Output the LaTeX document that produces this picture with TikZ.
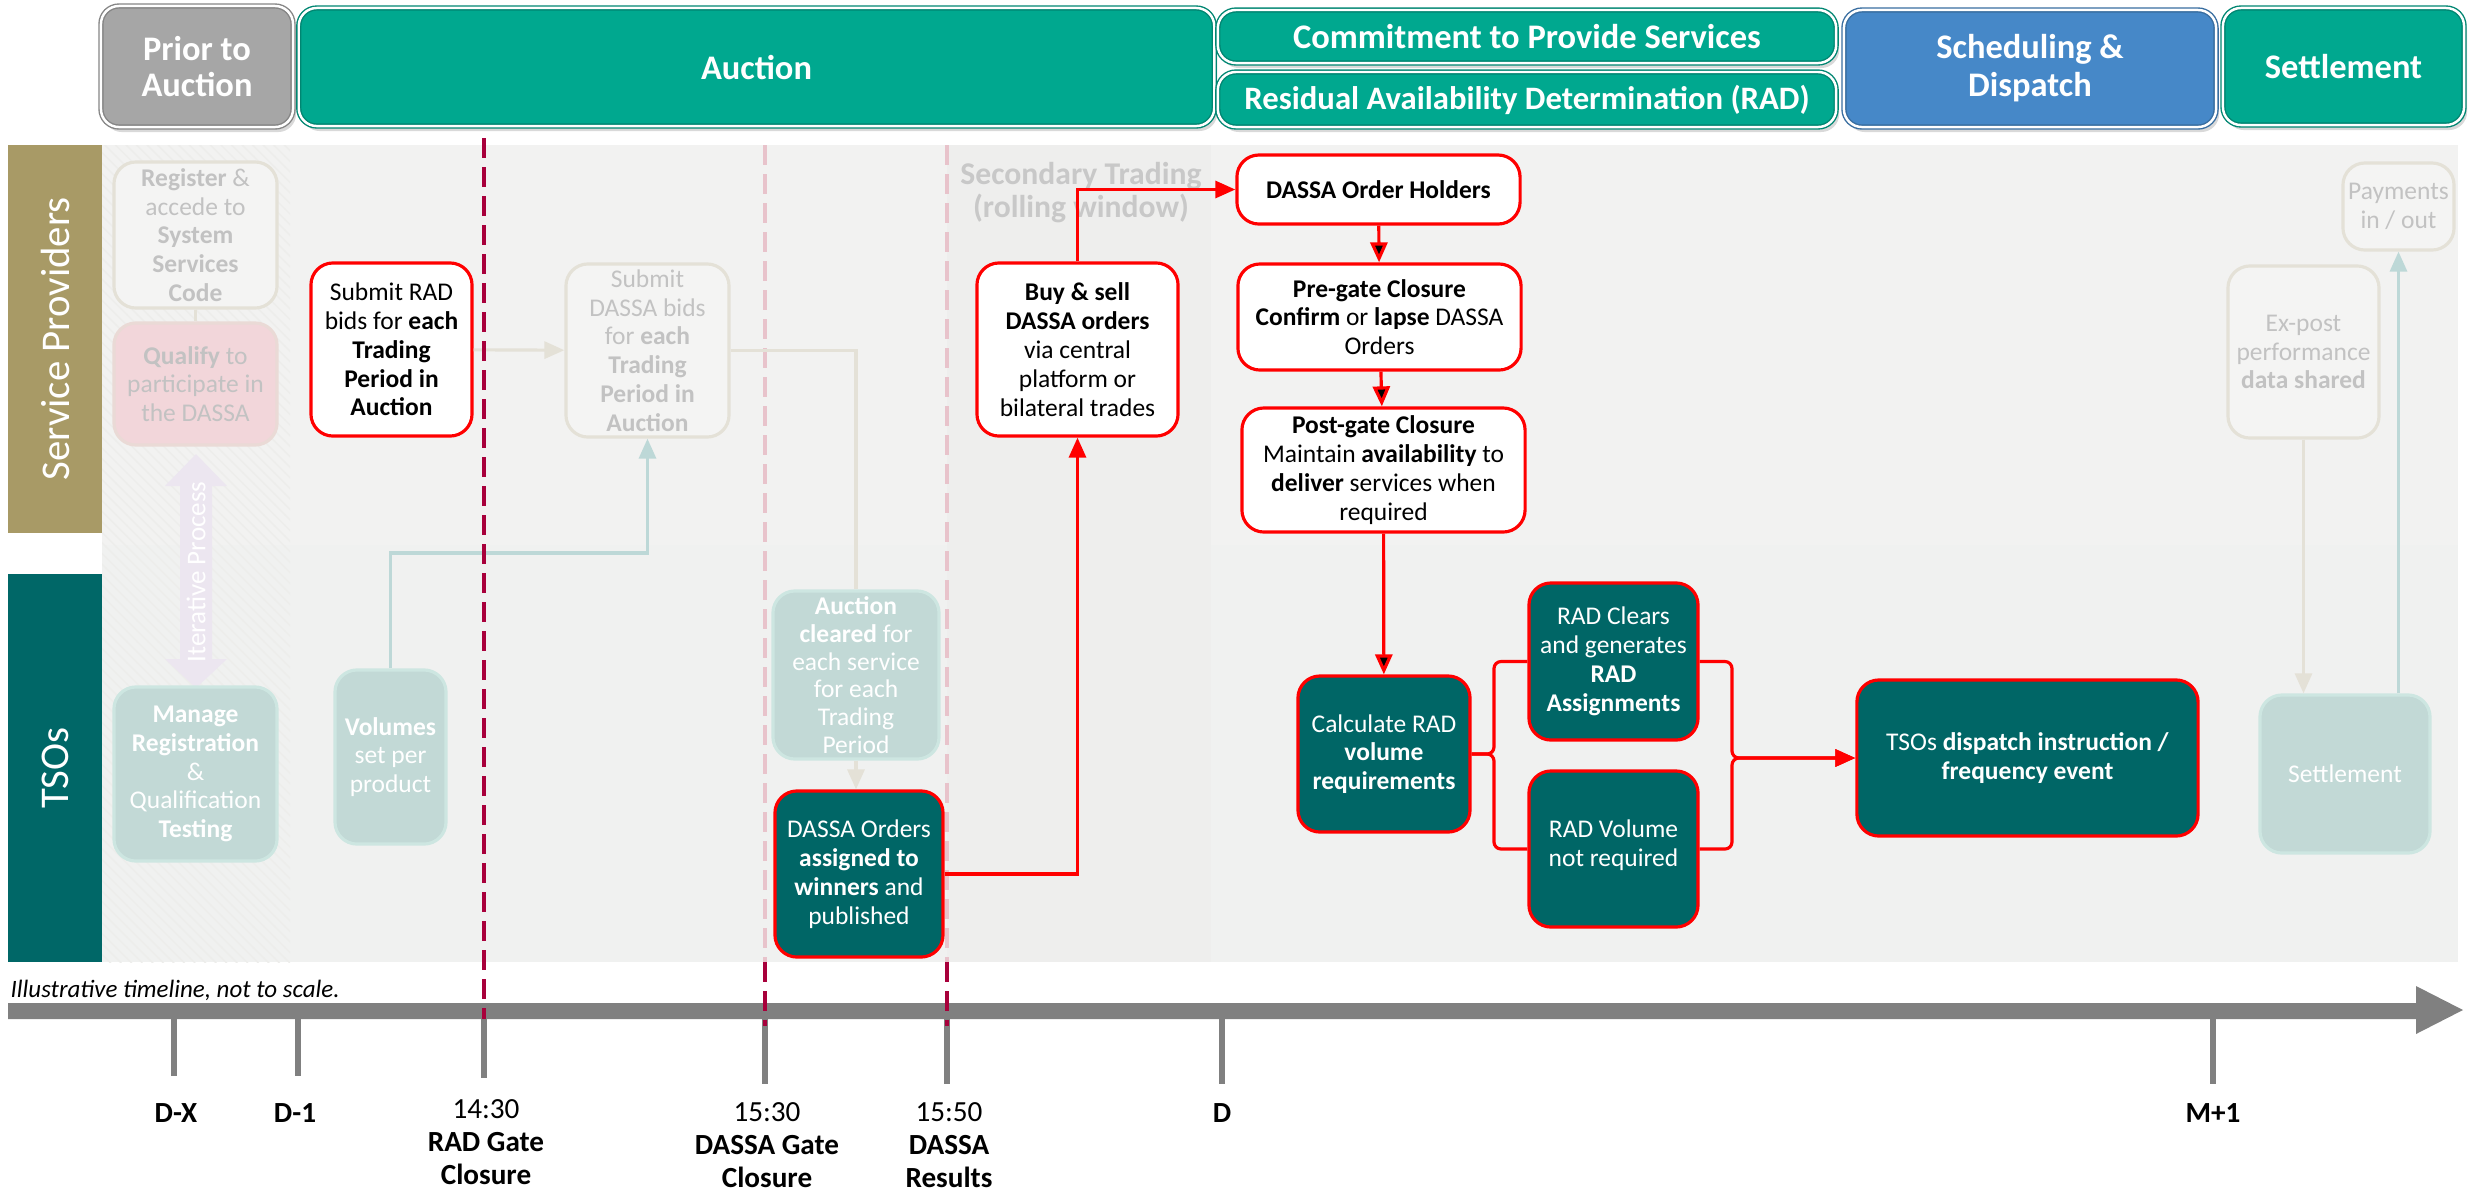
\documentclass[tikz,border=0pt]{standalone}
\usepackage{fontspec}
\setmainfont{Carlito}
\usetikzlibrary{positioning,arrows.meta,shadows,patterns}

\definecolor{hdrteal}{HTML}{00A88F}
\definecolor{hdrgray}{HTML}{A6A6A6}
\definecolor{hdrblue}{HTML}{4688C8}
\definecolor{spgold}{HTML}{A89A66}
\definecolor{tsoteal}{HTML}{006767}
\definecolor{darkteal}{HTML}{006666}
\definecolor{alertred}{HTML}{FF0000}
\definecolor{fadeline}{HTML}{E4E1D7}
\definecolor{fadefill}{HTML}{F4F4F3}
\definecolor{fadetext}{HTML}{C2C2C2}
\definecolor{fadetealfill}{HTML}{C2D9D6}
\definecolor{fadetealline}{HTML}{CDE6E1}
\definecolor{fadepink}{HTML}{F2D6DA}
\definecolor{fadepinkline}{HTML}{EADAD6}
\definecolor{fadecyan}{HTML}{BDD8D7}
\definecolor{gatered}{HTML}{A8003B}
\definecolor{gatepale}{HTML}{E8C3CB}
\definecolor{axisgray}{HTML}{808080}
\definecolor{lanebg}{HTML}{F2F2F1}
\definecolor{tsobg}{HTML}{F0F1F0}
\definecolor{tradebg}{HTML}{EEEEED}
\definecolor{hatchcol}{HTML}{EDEDEB}
\definecolor{tradetext}{HTML}{C8C8C8}
\definecolor{iterfill}{HTML}{ECE6F0}

\newcommand{\boxfont}{\fontsize{7.25}{8.2}\selectfont}
\newcommand{\headfont}{\fontsize{9.8}{10.4}\selectfont\bfseries}
\newcommand{\lanefont}{\fontsize{11.6}{13}\selectfont}
\newcommand{\timefont}{\fontsize{8.3}{9.4}\selectfont}
\newcommand{\tradefont}{\fontsize{9}{9.4}\selectfont\bfseries}
\newcommand{\iterfont}{\fontsize{7.7}{8}\selectfont}
\newcommand{\notefont}{\fontsize{7.1}{8}\selectfont\itshape}

\begin{document}
\begin{tikzpicture}[x=0.01cm,y=-0.01cm,>={Triangle[length=0.2cm,width=0.17cm]},
    basebox/.style={rounded corners=0.22cm,align=center,inner sep=0pt,font=\boxfont,line width=0.9pt},
    hotbox/.style={basebox,draw=alertred,fill=white},
    tealbox/.style={basebox,draw=alertred,fill=darkteal,text=white},
    fadebox/.style={basebox,draw=fadeline,fill=fadefill,text=fadetext},
    fadetealbox/.style={basebox,draw=fadetealline,fill=fadetealfill,text=white},
    headbox/.style={rounded corners=0.18cm,draw=#1!80!black,double=white,double distance=0.7pt,
      line width=0.4pt,fill=#1,text=white,font=\headfont,align=center,inner sep=0pt,
      drop shadow={opacity=0.3,shadow xshift=0.03cm,shadow yshift=-0.05cm}},
    laneband/.style={rotate=90,text=white,font=\lanefont,inner sep=0pt,minimum width=3.88cm,minimum height=0.94cm},
    redline/.style={draw=alertred,line width=0.9pt},
    fadeconn/.style={draw=fadeline,line width=0.9pt},
    cyanconn/.style={draw=fadecyan,line width=0.9pt},
    gateline/.style={draw=gatered,line width=1.3pt,dash pattern=on 0.2cm off 0.09cm},
    paleline/.style={draw=gatepale,line width=1pt,dash pattern=on 0.2cm off 0.09cm},
    axistick/.style={draw=axisgray,line width=1.7pt},
    timelbl/.style={font=\timefont,align=center,inner sep=0pt}]
  \useasboundingbox (0,0) rectangle (2471,1190);

  \fill[lanebg] (102,145) rectangle (2458,962);
  \fill[tsobg] (102,545) rectangle (2458,962);
  \fill[tradebg] (947,145) rectangle (1211,962);
  \fill[pattern=north west lines,pattern color=hatchcol] (102,145) rectangle (290,962);

  \node[headbox=hdrgray,minimum width=1.92cm,minimum height=1.21cm] (prior) at (197,66.5) {Prior to\\Auction};
  \node[headbox=hdrteal,minimum width=9.15cm,minimum height=1.18cm] (auction) at (756.5,67) {Auction};
  \node[headbox=hdrteal,minimum width=6.18cm,minimum height=0.53cm] (commit) at (1527,36.5) {Commitment to Provide Services};
  \node[headbox=hdrteal,minimum width=6.18cm,minimum height=0.55cm,font=\fontsize{9.3}{10}\selectfont\bfseries] (radhdr) at (1527,99.5) {Residual Availability Determination (RAD)};
  \node[headbox=hdrblue,minimum width=3.72cm,minimum height=1.17cm,font=\fontsize{9.8}{10.8}\selectfont\bfseries] (sched) at (2030,68.5) {Scheduling \&\\Dispatch};
  \node[headbox=hdrteal,minimum width=2.41cm,minimum height=1.17cm] (settlehdr) at (2343.5,66.5) {Settlement};

  \node[laneband,fill=spgold] (sp) at (55,339) {Service Providers};
  \node[laneband,fill=tsoteal] (tso) at (55,768) {TSOs};

  \fill[axisgray] (8,1003) -- (2416,1003) -- (2416,986) -- (2463,1010) -- (2416,1034) -- (2416,1019) -- (8,1019) -- cycle;
  \node[font=\notefont,anchor=west,inner sep=0pt] (note) at (10,990) {Illustrative timeline, not to scale.};
  \draw[axistick] (174,1019) -- (174,1076);
  \draw[axistick] (298,1019) -- (298,1076);
  \draw[axistick] (484,1019) -- (484,1078);
  \draw[axistick] (765,1019) -- (765,1084);
  \draw[axistick] (947,1019) -- (947,1084);
  \draw[axistick] (1222,1019) -- (1222,1084);
  \draw[axistick] (2213,1019) -- (2213,1084);
  \node[timelbl] (lblDX) at (176,1113) {\textbf{D-X}};
  \node[timelbl] (lblD1) at (295,1113) {\textbf{D-1}};
  \node[timelbl] (lbl1430) at (486,1142) {14:30\\\textbf{RAD Gate}\\\textbf{Closure}};
  \node[timelbl] (lbl1530) at (767,1145) {15:30\\\textbf{DASSA Gate}\\\textbf{Closure}};
  \node[timelbl] (lbl1550) at (949,1145) {15:50\\\textbf{DASSA}\\\textbf{Results}};
  \node[timelbl] (lblD) at (1222,1113) {\textbf{D}};
  \node[timelbl] (lblM1) at (2213,1113) {\textbf{M+1}};

  \draw[paleline] (765,145) -- (765,962);
  \draw[paleline] (947,145) -- (947,962);

  \fill[iterfill] (196,454) -- (227,486) -- (212,486) -- (212,659) -- (227,659) -- (196,688)
    -- (165,659) -- (180,659) -- (180,486) -- (165,486) -- cycle;
  \node[rotate=90,text=white,font=\iterfont,inner sep=0pt] (iter) at (196,572) {Iterative Process};

  \node[font=\tradefont,text=tradetext,align=center,inner sep=0pt] (sectrade) at (1081,193) {Secondary Trading\\(rolling window)};

  \node[fadebox,minimum width=1.63cm,minimum height=1.46cm] (reg) at (195.5,235) {\textbf{Register} \&\\accede to\\\textbf{System}\\\textbf{Services}\\\textbf{Code}};
  \node[fadebox,fill=fadepink,draw=fadepinkline,minimum width=1.63cm,minimum height=1.22cm] (qual) at (195.5,384) {\textbf{Qualify} to\\participate in\\the DASSA};
  \node[hotbox,minimum width=1.61cm,minimum height=1.73cm] (subrad) at (391.5,349.5) {Submit RAD\\bids for \textbf{each}\\\textbf{Trading}\\\textbf{Period in}\\\textbf{Auction}};
  \node[fadebox,minimum width=1.63cm,minimum height=1.73cm] (subdassa) at (647.5,350.5) {Submit\\DASSA bids\\for \textbf{each}\\\textbf{Trading}\\\textbf{Period in}\\\textbf{Auction}};
  \node[hotbox,minimum width=2.01cm,minimum height=1.73cm] (buysell) at (1077.5,349.5) {\textbf{Buy \& sell}\\\textbf{DASSA orders}\\via central\\platform or\\bilateral trades};
  \node[hotbox,minimum width=2.83cm,minimum height=0.69cm] (holders) at (1378.5,189.5) {\textbf{DASSA Order Holders}};
  \node[hotbox,minimum width=2.83cm,minimum height=1.06cm] (pregate) at (1379.5,317) {\textbf{Pre-gate Closure}\\\textbf{Confirm} or \textbf{lapse} DASSA\\Orders};
  \node[hotbox,minimum width=2.83cm,minimum height=1.24cm] (postgate) at (1383.5,470) {\textbf{Post-gate Closure}\\Maintain \textbf{availability} to\\\textbf{deliver} services when\\required};
  \node[fadebox,minimum width=1.11cm,minimum height=0.87cm] (payments) at (2398.5,206.5) {Payments\\in / out};
  \node[fadebox,minimum width=1.51cm,minimum height=1.72cm] (expost) at (2303.5,352) {Ex-post\\performance\\\textbf{data shared}};

  \node[fadetealbox,minimum width=1.63cm,minimum height=1.74cm] (manage) at (195.5,774) {\textbf{Manage}\\\textbf{Registration}\\\&\\Qualification\\\textbf{Testing}};
  \node[fadetealbox,minimum width=1.11cm,minimum height=1.74cm] (volumes) at (390.5,757) {\textbf{Volumes}\\set per\\product};
  \node[fadetealbox,minimum width=1.66cm,minimum height=1.68cm,font=\fontsize{7.25}{7.9}\selectfont] (cleared) at (856,675) {\textbf{Auction}\\\textbf{cleared} for\\each service\\for each\\Trading\\Period};
  \node[tealbox,minimum width=1.68cm,minimum height=1.66cm] (assigned) at (859,874) {DASSA Orders\\\textbf{assigned to}\\\textbf{winners} and\\published};
  \node[tealbox,minimum width=1.72cm,minimum height=1.56cm] (calc) at (1384,754) {Calculate RAD\\\textbf{volume}\\\textbf{requirements}};
  \node[tealbox,minimum width=1.69cm,minimum height=1.57cm] (clears) at (1613.5,661.5) {RAD Clears\\and generates\\\textbf{RAD}\\\textbf{Assignments}};
  \node[tealbox,minimum width=1.69cm,minimum height=1.56cm,text depth=0.12cm] (notreq) at (1613.5,849) {RAD Volume\\not required};
  \node[tealbox,minimum width=3.41cm,minimum height=1.56cm] (dispatch) at (2027.5,758) {TSOs \textbf{dispatch instruction /}\\\textbf{frequency event}};
  \node[fadetealbox,minimum width=1.70cm,minimum height=1.58cm] (settle) at (2345,774) {Settlement};

  \coordinate (vturn) at (390.5,553);
  \coordinate (jl) at (1494,754);
  \coordinate (jr) at (1732,758);

  \draw[fadeconn] (reg) -- (qual);
  \draw[fadeconn,->] (subrad) -- (subdassa);
  \draw[fadeconn] (subdassa.east) -| (cleared.north);
  \draw[fadeconn,->] (cleared.south) -- (cleared.south |- assigned.north);
  \draw[cyanconn,->] (volumes.north) -- (vturn) -| (subdassa.south);
  \draw[fadeconn,->] (expost.south) -- (expost.south |- settle.north);
  \draw[cyanconn,->] (payments.south |- settle.north) -- (payments.south);

  \draw[redline,->] (assigned.east) -| (buysell.south);
  \draw[redline,->] (buysell.north) |- (holders.west);
  \path[redline,->]
    (holders) edge (pregate)
    (pregate) edge (postgate)
    (postgate) edge (calc);
  \draw[redline,rounded corners=0.07cm] (clears.west) -| (jl) -- (calc.east);
  \draw[redline,rounded corners=0.07cm] (notreq.west) -| (jl) -- (calc.east);
  \draw[redline,rounded corners=0.07cm,->] (clears.east) -| (jr) -- (dispatch.west);
  \draw[redline,rounded corners=0.07cm,->] (notreq.east) -| (jr) -- (dispatch.west);

  \draw[gateline] (484,138) -- (484,1019);
  \draw[gateline] (765,962) -- (765,1026);
  \draw[gateline] (947,962) -- (947,1026);
\end{tikzpicture}
\end{document}
